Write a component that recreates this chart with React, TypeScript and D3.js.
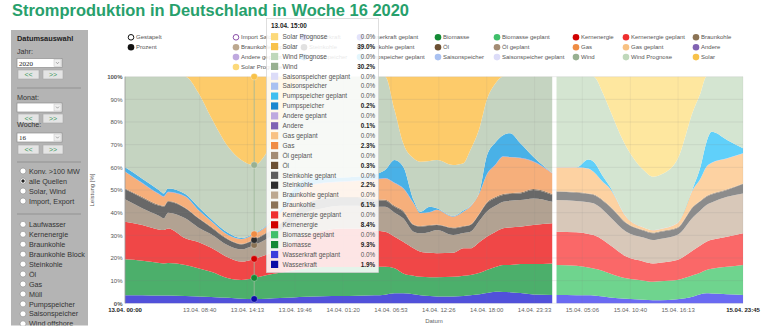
import React from 'react';
import * as d3 from 'd3';

// ---------------- DATA ----------------
const TITLE = 'Stromproduktion in Deutschland in Woche 16 2020';

// hours since 13.04. 00:00 (actual production)
const hoursActual = [0, 2, 4, 4.5, 5, 7, 8.5, 10, 12, 13.5, 15, 16.5, 18, 19.5, 21, 23, 25, 27, 29, 30.2, 31.3, 32.3, 33.5, 34.3, 35.4, 36.2, 38.1, 39.3, 40.1, 41.2, 42, 43, 43.9, 44.7, 45.9, 47.4, 49.6];
const wasserkraft = [3.6, 3.5, 3.4, 3.4, 3.4, 3.2, 3.0, 2.8, 2.4, 2.0, 1.9, 2.0, 2.3, 2.6, 2.9, 3.1, 3.2, 3.3, 3.5, 3.8, 4.4, 4.4, 4.0, 3.5, 3.2, 3.0, 3.0, 3.2, 3.5, 4.0, 4.5, 5.1, 5.0, 4.9, 4.5, 3.9, 3.7];
const biomasse = [15.8, 15.3, 14.4, 14.2, 14.4, 13.7, 12.5, 11.1, 8.6, 8.3, 9.3, 10.5, 11.2, 11.9, 12.6, 12.9, 12.8, 12.7, 12.5, 12.3, 11.1, 8.8, 8.2, 8.2, 8.3, 8.5, 8.7, 9.0, 9.0, 9.5, 10.2, 10.9, 11.9, 12.0, 12.8, 13.4, 13.9];
const kernenergie = [16.6, 15.7, 14.7, 14.7, 15.2, 11.8, 11.5, 10.6, 9.2, 8.1, 8.4, 9.0, 10.5, 12.5, 14.5, 16.0, 17.0, 17.0, 16.0, 15.5, 13.9, 14.0, 12.1, 11.1, 10.8, 10.6, 10.6, 12.1, 11.8, 13.7, 14.7, 15.5, 16.2, 16.6, 16.5, 17.2, 17.7];
const braunkohle = [9.9, 7.5, 6.0, 5.2, 7.0, 8.8, 6.5, 6.0, 5.3, 5.4, 6.1, 7.0, 8.0, 9.0, 10.0, 10.0, 10.0, 10.0, 10.5, 11.0, 10.6, 10.3, 7.3, 8.1, 9.2, 10.2, 7.8, 6.7, 7.3, 9.5, 11.0, 11.5, 11.7, 11.8, 11.8, 11.8, 9.5];
const steinkohle = [4.4, 4.5, 4.5, 5.1, 4.8, 4.4, 4.0, 3.0, 2.5, 2.2, 2.2, 2.5, 3.0, 3.5, 4.0, 4.0, 3.5, 3.5, 3.0, 2.7, 2.6, 2.9, 2.9, 2.9, 2.7, 2.2, 3.0, 2.8, 2.9, 3.0, 3.7, 3.5, 3.0, 2.9, 2.9, 3.7, 3.0];
const oel = [0.4, 0.4, 0.4, 0.4, 0.4, 0.3, 0.3, 0.3, 0.3, 0.3, 0.3, 0.3, 0.3, 0.3, 0.4, 0.4, 0.4, 0.4, 0.4, 0.4, 0.4, 0.4, 0.3, 0.3, 0.3, 0.3, 0.3, 0.3, 0.3, 0.3, 0.4, 0.4, 0.4, 0.4, 0.4, 0.4, 0.4];
const gas = [7.3, 6.1, 4.6, 4.0, 3.8, 4.8, 3.4, 2.4, 1.7, 2.0, 2.3, 2.7, 4.2, 6.2, 7.1, 6.6, 6.6, 7.1, 8.6, 9.4, 10.0, 9.9, 9.3, 5.6, 5.7, 6.4, 4.8, 6.3, 7.8, 9.0, 12.1, 14.1, 16.5, 15.8, 15.1, 12.1, 9.1];
const andere = [0.2, 0.2, 0.2, 0.2, 0.2, 0.2, 0.1, 0.1, 0.1, 0.1, 0.1, 0.1, 0.1, 0.1, 0.2, 0.2, 0.2, 0.2, 0.2, 0.2, 0.2, 0.2, 0.2, 0.1, 0.1, 0.1, 0.1, 0.1, 0.1, 0.1, 0.2, 0.2, 0.2, 0.2, 0.2, 0.2, 0.2];
const pumpspeicher = [1.8, 1.8, 1.6, 1.3, 1.5, 1.0, 1.3, 0.9, 0.9, 0.4, 0.2, 0.4, 1.4, 3.9, 3.3, 2.3, 1.8, 1.8, 2.3, 3.5, 10.0, 9.4, 1.3, 0.6, 2.3, 0.6, 0.2, 0.4, 0.2, 0.9, 8.2, 9.8, 9.3, 10.4, 6.4, 2.0, 0.0];
const wind = [40.0, 45.0, 50.2, 51.5, 49.3, 51.8, 50.4, 44.8, 38.0, 34.4, 30.2, 32.5, 39.0, 44.0, 45.0, 44.5, 44.5, 44.0, 43.0, 41.2, 22.1, 10.3, 18.4, 22.1, 20.2, 21.3, 22.5, 20.9, 24.7, 27.9, 24.7, 26.0, 25.8, 25.0, 29.4, 35.3, 42.5];
const solar = [0, 0, 0, 0, 0, 0, 7, 18, 31, 36.8, 39.0, 33, 20, 6, 0, 0, 0, 0, 0, 0, 14.7, 29.4, 36, 37.5, 37.2, 36.8, 39, 38.2, 32.4, 22.1, 10.3, 3, 0, 0, 0, 0, 0];

// planned / forecast values (15.04.)
const hoursPlanned = [50.1, 52.4, 53.8, 54.4, 55.5, 56.3, 58.2, 60.2, 61.3, 62.1, 64.1, 66, 66.8, 67.5, 68.1, 69.9, 71.75];
const wasserkraftGeplant = [3.7, 3.6, 3.5, 3.4, 3.0, 2.6, 2.0, 1.6, 1.4, 1.4, 1.8, 3.0, 4.0, 4.4, 4.3, 4.0, 3.7];
const biomasseGeplant = [13.2, 13.0, 12.3, 12.0, 11.3, 10.6, 9.0, 8.4, 8.1, 8.3, 8.5, 9.5, 9.5, 10.3, 10.9, 12.1, 13.2];
const kernenergieGeplant = [14.7, 14.7, 14.8, 14.7, 13.6, 12.5, 9.6, 8.5, 8.1, 8.2, 8.8, 11.0, 12.0, 12.5, 12.8, 13.3, 14.0];
const braunkohleGeplant = [14.0, 13.9, 14.0, 14.0, 13.3, 12.5, 11.0, 10.5, 10.3, 10.5, 11.0, 14.7, 15.5, 16.2, 16.5, 17.6, 17.6];
const steinkohleGeplant = [3.6, 3.6, 3.6, 3.7, 4.0, 4.4, 3.7, 3.0, 3.0, 3.1, 3.0, 4.4, 4.0, 3.6, 3.5, 3.0, 4.1];
const oelGeplant = [0.3, 0.3, 0.3, 0.3, 0.3, 0.3, 0.3, 0.3, 0.3, 0.3, 0.3, 0.3, 0.3, 0.3, 0.3, 0.3, 0.3];
const gasGeplant = [10.4, 10.8, 10.9, 9.9, 7.9, 7.7, 2.5, 1.1, 1.0, 0.9, 1.8, 7.7, 9.6, 12.9, 13.6, 13.6, 13.2];
const andereGeplant = [0.1, 0.1, 0.1, 0.1, 0.1, 0.1, 0.1, 0.1, 0.1, 0.1, 0.1, 0.1, 0.1, 0.1, 0.1, 0.1, 0.1];
const pumpspeicherGeplant = [0, 0, 4.0, 4.4, 2.5, 0.8, 0, 0, 0, 0, 0, 0.8, 5.0, 10.7, 13.7, 8.1, 2.2];
const windPrognose = [40, 40, 36.5, 37.5, 36.6, 33.8, 30.9, 25.3, 23.6, 23.8, 27.9, 33.8, 32.6, 29.0, 24.3, 27.9, 31.6];
const solarPrognose = [0, 0, 0, 0, 7.4, 14.7, 30.9, 41.2, 44.1, 43.4, 36.8, 14.7, 7.4, 0, 0, 0, 0];

const xTickHours = [0, 8.667, 14.217, 19.767, 25.333, 30.883, 36.433, 42, 47.55, 53.1, 58.667, 64.217, 71.75];
const xTickLabels = ['13.04. 00:00', '13.04. 08:40', '13.04. 14:13', '13.04. 19:46', '14.04. 01:20', '14.04. 06:53', '14.04. 12:26', '14.04. 18:00', '14.04. 23:33', '15.04. 05:06', '15.04. 10:40', '15.04. 16:13', '15.04. 23:45'];
const yTickValues = [0, 0.1, 0.2, 0.3, 0.4, 0.5, 0.6, 0.7, 0.8, 0.9, 1];
const yTickLabels = ['0%', '10%', '20%', '30%', '40%', '50%', '60%', '70%', '80%', '90%', '100%'];

const tooltipHour = 15;
const tooltipLabel = '13.04. 15:00';

const legendFlow = ['Import Saldo', 'Wasserkraft', 'Wasserkraft geplant', 'Biomasse', 'Biomasse geplant', 'Kernenergie', 'Kernenergie geplant', 'Braunkohle',
  'Braunkohle geplant', 'Steinkohle', 'Steinkohle geplant', 'Öl', 'Öl geplant', 'Gas', 'Gas geplant', 'Andere',
  'Andere geplant', 'Pumpspeicher', 'Pumpspeicher geplant', 'Saisonspeicher', 'Saisonspeicher geplant', 'Wind', 'Wind Prognose', 'Solar',
  'Solar Prognose'];

const tooltipOrder = ['Solar Prognose', 'Solar', 'Wind Prognose', 'Wind', 'Saisonspeicher geplant', 'Saisonspeicher', 'Pumpspeicher geplant', 'Pumpspeicher',
  'Andere geplant', 'Andere', 'Gas geplant', 'Gas', 'Öl geplant', 'Öl', 'Steinkohle geplant', 'Steinkohle', 'Braunkohle geplant', 'Braunkohle',
  'Kernenergie geplant', 'Kernenergie', 'Biomasse geplant', 'Biomasse', 'Wasserkraft geplant', 'Wasserkraft'];

const panelRadios1 = ['Konv. >100 MW', 'alle Quellen', 'Solar, Wind', 'Import, Export'];
const panelRadios2 = ['Laufwasser', 'Kernenergie', 'Braunkohle', 'Braunkohle Block', 'Steinkohle', 'Öl', 'Gas', 'Müll', 'Pumpspeicher', 'Saisonspeicher', 'Wind offshore'];

// ---------------- STYLE ----------------
const actualKeys = ['Wasserkraft', 'Biomasse', 'Kernenergie', 'Braunkohle', 'Steinkohle', 'Öl', 'Gas', 'Andere', 'Pumpspeicher', 'Wind', 'Solar'];
const actualSeries = [wasserkraft, biomasse, kernenergie, braunkohle, steinkohle, oel, gas, andere, pumpspeicher, wind, solar];
const plannedKeys = ['Wasserkraft geplant', 'Biomasse geplant', 'Kernenergie geplant', 'Braunkohle geplant', 'Steinkohle geplant', 'Öl geplant', 'Gas geplant', 'Andere geplant', 'Pumpspeicher geplant', 'Wind Prognose', 'Solar Prognose'];
const plannedSeries = [wasserkraftGeplant, biomasseGeplant, kernenergieGeplant, braunkohleGeplant, steinkohleGeplant, oelGeplant, gasGeplant, andereGeplant, pumpspeicherGeplant, windPrognose, solarPrognose];

const areaColor: Record<string, string> = {
  'Wasserkraft': '#5151da', 'Biomasse': '#4caf6b', 'Kernenergie': '#f04747', 'Braunkohle': '#b2a292', 'Steinkohle': '#686868',
  'Öl': '#8a7560', 'Gas': '#f6af7b', 'Andere': '#a08ac8', 'Pumpspeicher': '#49b1e7', 'Wind': '#c5d4c1', 'Solar': '#fdcb6a',
  'Wasserkraft geplant': '#6a6af2', 'Biomasse geplant': '#6fd48e', 'Kernenergie geplant': '#fa6868', 'Braunkohle geplant': '#d8c8b9',
  'Steinkohle geplant': '#8c8c8c', 'Öl geplant': '#a89580', 'Gas geplant': '#fdd2a2', 'Andere geplant': '#c8b4e4',
  'Pumpspeicher geplant': '#60d0fa', 'Wind Prognose': '#d4e5d1', 'Solar Prognose': '#fee79f',
};
const dotColor: Record<string, string> = {
  'Import Saldo': '#8a4ea8', 'Wasserkraft': '#0c0ca6', 'Wasserkraft geplant': '#3c3cdc', 'Biomasse': '#138a35', 'Biomasse geplant': '#3fbf6a',
  'Kernenergie': '#d10000', 'Kernenergie geplant': '#ef2f2f', 'Braunkohle': '#8b7355', 'Braunkohle geplant': '#bca88f',
  'Steinkohle': '#2e2e2e', 'Steinkohle geplant': '#5e5e5e', 'Öl': '#6b5033', 'Öl geplant': '#a38c74', 'Gas': '#ef8c44',
  'Gas geplant': '#f8c183', 'Andere': '#8163b3', 'Andere geplant': '#bfa9df', 'Pumpspeicher': '#1b87cf', 'Pumpspeicher geplant': '#3fbff0',
  'Saisonspeicher': '#a9c1f1', 'Saisonspeicher geplant': '#dcdcf8', 'Wind': '#98b091', 'Wind Prognose': '#bfd8bb',
  'Solar': '#f8c24a', 'Solar Prognose': '#fcd97a',
};

const FONT = '"Liberation Sans", Arial, Helvetica, sans-serif';

function buildRows(hours: number[], keys: string[], series: number[][]) {
  return hours.map((h, i) => {
    const r: any = { h };
    keys.forEach((k, j) => { r[k] = series[j][i]; });
    return r;
  });
}

function Select({ x, y, text }: { x: number; y: number; text: string }) {
  return (
    <g>
      <rect x={x} y={y} width={45} height={9} fill="#fff" stroke="#8f8f8f" strokeWidth={0.7} />
      <rect x={x + 37} y={y + 1} width={7} height={7} fill="#efefef" stroke="#c4c4c4" strokeWidth={0.5} />
      <path d={`M${x + 39},${y + 3.6} L${x + 40.5},${y + 5.2} L${x + 42},${y + 3.6}`} fill="none" stroke="#777" strokeWidth={0.6} />
      {text && <text x={x + 2} y={y + 7} fontSize={7} fill="#222" fontFamily="Liberation Serif, serif">{text}</text>}
    </g>
  );
}

function Buttons({ x, y }: { x: number; y: number }) {
  return (
    <g>
      <rect x={x} y={y} width={21} height={9} fill="#e4e4e4" stroke="#a8a8a8" strokeWidth={0.6} />
      <text x={x + 10.5} y={y + 6.8} fontSize={7} textAnchor="middle" fill="#3e9a60">{'<<'}</text>
      <rect x={x + 25} y={y} width={20} height={9} fill="#e4e4e4" stroke="#a8a8a8" strokeWidth={0.6} />
      <text x={x + 35} y={y + 6.8} fontSize={7} textAnchor="middle" fill="#3e9a60">{'>>'}</text>
    </g>
  );
}

function Radio({ y, label, checked }: { y: number; label: string; checked?: boolean }) {
  return (
    <g>
      <circle cx={23} cy={y} r={3} fill="#fff" stroke="#8a8a8a" strokeWidth={0.6} />
      {checked && <circle cx={23} cy={y} r={1.7} fill="#222" />}
      <text x={29} y={y + 2.6} fontSize={7.2} fill="#333">{label}</text>
    </g>
  );
}

export default function App() {
  const x = d3.scaleLinear().domain([0, 71.75]).range([125, 743]);
  const y = d3.scaleLinear().domain([0, 1]).range([303.3, 76.7]);

  const stackGen = (keys: string[]) => d3.stack<any>().keys(keys).offset(d3.stackOffsetExpand);
  const actualRows = buildRows(hoursActual, actualKeys, actualSeries);
  const plannedRows = buildRows(hoursPlanned, plannedKeys, plannedSeries);
  const actualStack = stackGen(actualKeys)(actualRows);
  const plannedStack = stackGen(plannedKeys)(plannedRows);

  const area = d3.area<any>()
    .x((d) => x(d.data.h))
    .y0((d) => y(d[0]))
    .y1((d) => y(d[1]))
    .curve(d3.curveMonotoneX);

  const tipIdx = hoursActual.indexOf(tooltipHour);
  const tipTotal = actualKeys.reduce((s, k) => s + actualRows[tipIdx][k], 0);
  const tipValue = (name: string) => {
    const j = actualKeys.indexOf(name);
    if (j < 0) return 0;
    return (actualRows[tipIdx][name] / tipTotal) * 100;
  };

  const legendCols = [236, 304, 360, 438, 497, 576, 626, 696];
  const legendRowY = (r: number) => 37.3 + r * 9.9;

  const tipX = 266.5, tipY = 18.5, tipW = 112, tipH = 254;

  return (
    <svg width={771} height={336} style={{ position: 'absolute', left: 0, top: 0, fontFamily: FONT }}>
      <rect x={0} y={0} width={771} height={336} fill="#fff" />
      {/* Title */}
      <text x={12} y={15.5} fontSize={16.5} fontWeight="bold" fill="#27a06c" textLength={397} lengthAdjust="spacingAndGlyphs">{TITLE}</text>

      {/* Left panel */}
      <defs>
        <clipPath id="panelClip"><rect x={11} y={30} width={77} height={295.5} /></clipPath>
      </defs>
      <g clipPath="url(#panelClip)">
        <rect x={11} y={30} width={77} height={296} fill="#b4b4b4" />
        <text x={17} y={41} fontSize={7.4} fontWeight="bold" fill="#222">Datumsauswahl</text>
        <text x={17} y={53.5} fontSize={7.2} fill="#333">Jahr:</text>
        <Select x={17} y={58.5} text="2020" />
        <Buttons x={18} y={70} />
        <line x1={17} x2={81} y1={88} y2={88} stroke="#8c8c8c" strokeWidth={0.8} />
        <text x={17} y={100} fontSize={7.2} fill="#333">Monat:</text>
        <Select x={17} y={103} text="" />
        <Buttons x={18} y={114} />
        <text x={17} y={127} fontSize={7.2} fill="#333">Woche:</text>
        <Select x={17} y={133} text="16" />
        <Buttons x={18} y={145} />
        <line x1={17} x2={81} y1={162} y2={162} stroke="#8c8c8c" strokeWidth={0.8} />
        {panelRadios1.map((l, i) => <Radio key={l} y={171 + i * 10} label={l} checked={i === 1} />)}
        <line x1={17} x2={81} y1={214} y2={214} stroke="#8c8c8c" strokeWidth={0.8} />
        {panelRadios2.map((l, i) => <Radio key={l} y={224.3 + i * 9.95} label={l} />)}
      </g>

      {/* Y axis title */}
      <text transform="translate(94,190) rotate(-90)" fontSize={6} textAnchor="middle" fill="#555">Leistung [%]</text>

      {/* Areas */}
      {actualStack.map((s) => (
        <path key={s.key} d={area(s as any) || ''} fill={areaColor[s.key]} />
      ))}
      {plannedStack.map((s) => (
        <path key={s.key} d={area(s as any) || ''} fill={areaColor[s.key]} />
      ))}

      {/* grid */}
      {yTickValues.map((v) => (
        <line key={'gy' + v} x1={125} x2={743} y1={y(v)} y2={y(v)} stroke="#7f7f7f" strokeOpacity={0.18} strokeWidth={0.8} />
      ))}
      {xTickHours.map((h) => (
        <line key={'gx' + h} x1={x(h)} x2={x(h)} y1={y(1)} y2={y(0)} stroke="#7f7f7f" strokeOpacity={0.12} strokeWidth={0.8} />
      ))}
      <line x1={125} x2={125} y1={y(1)} y2={y(0)} stroke="#a0a0a0" strokeWidth={0.8} />

      {/* Y labels */}
      {yTickValues.map((v, i) => (
        <text key={'yl' + v} x={122.5} y={y(v) + 2.2} fontSize={6} textAnchor="end" fill="#555"
          fontWeight={i === 0 || i === yTickValues.length - 1 ? 'bold' : 'normal'}>{yTickLabels[i]}</text>
      ))}
      {/* X labels */}
      {xTickHours.map((h, i) => (
        <text key={'xl' + h} x={x(h)} y={311.5} fontSize={6} textAnchor="middle"
          fill={i === 0 || i === xTickHours.length - 1 ? '#222' : '#666'}
          fontWeight={i === 0 || i === xTickHours.length - 1 ? 'bold' : 'normal'}>{xTickLabels[i]}</text>
      ))}
      <text x={(x(0) + x(71.75)) / 2} y={323} fontSize={6} textAnchor="middle" fill="#666">Datum</text>

      {/* crosshair & markers */}
      <line x1={x(tooltipHour)} x2={x(tooltipHour)} y1={y(1)} y2={y(0)} stroke="#9fb89a" strokeWidth={1} strokeOpacity={0.8} />
      {actualStack.filter((s) => s[tipIdx][1] - s[tipIdx][0] > 0.015).map((s) => (
        <circle key={'m' + s.key} cx={x(tooltipHour)} cy={y(s[tipIdx][1])} r={3.3} fill={dotColor[s.key]} stroke="#fff" strokeWidth={0.5} strokeOpacity={0.6} />
      ))}

      {/* Legend */}
      <circle cx={131} cy={legendRowY(0)} r={2.8} fill="#fff" stroke="#111" strokeWidth={1} />
      <text x={136} y={legendRowY(0) + 2.1} fontSize={6} fill="#555">Gestapelt</text>
      <circle cx={131} cy={legendRowY(1)} r={3.3} fill="#111" />
      <text x={136} y={legendRowY(1) + 2.1} fontSize={6} fill="#555">Prozent</text>
      {legendFlow.map((name, i) => {
        const col = i % 8, row = Math.floor(i / 8);
        const cx = legendCols[col], cy = legendRowY(row);
        const hollow = name === 'Import Saldo';
        return (
          <g key={'lg' + name}>
            {hollow
              ? <circle cx={cx} cy={cy} r={2.8} fill="#fff" stroke={dotColor[name]} strokeWidth={1} />
              : <circle cx={cx} cy={cy} r={3.3} fill={dotColor[name]} />}
            <text x={cx + 5} y={cy + 2.1} fontSize={6} fill="#555">{name}</text>
          </g>
        );
      })}

      {/* Tooltip */}
      <rect x={tipX} y={tipY} width={tipW} height={tipH} fill="#fff" fillOpacity={0.86} stroke="#d0d0d0" strokeWidth={0.7} />
      <text x={tipX + 4.5} y={tipY + 9.3} fontSize={6.4} fontWeight="bold" fill="#222">{tooltipLabel}</text>
      {tooltipOrder.map((name, i) => {
        const cy = 36.7 + i * 9.9;
        const v = tipValue(name);
        return (
          <g key={'tt' + name}>
            <rect x={tipX + 4.5} y={cy - 3.6} width={7.2} height={7.2} fill={dotColor[name]} />
            <text x={tipX + 16} y={cy + 2.2} fontSize={6.5} fill="#555">{name}</text>
            <text x={tipX + tipW - 3.5} y={cy + 2.2} fontSize={6.3} textAnchor="end" fill={v > 0 ? '#222' : '#555'} fontWeight={v > 0 ? 'bold' : 'normal'}>{v.toFixed(1) + '%'}</text>
          </g>
        );
      })}
    </svg>
  );
}
